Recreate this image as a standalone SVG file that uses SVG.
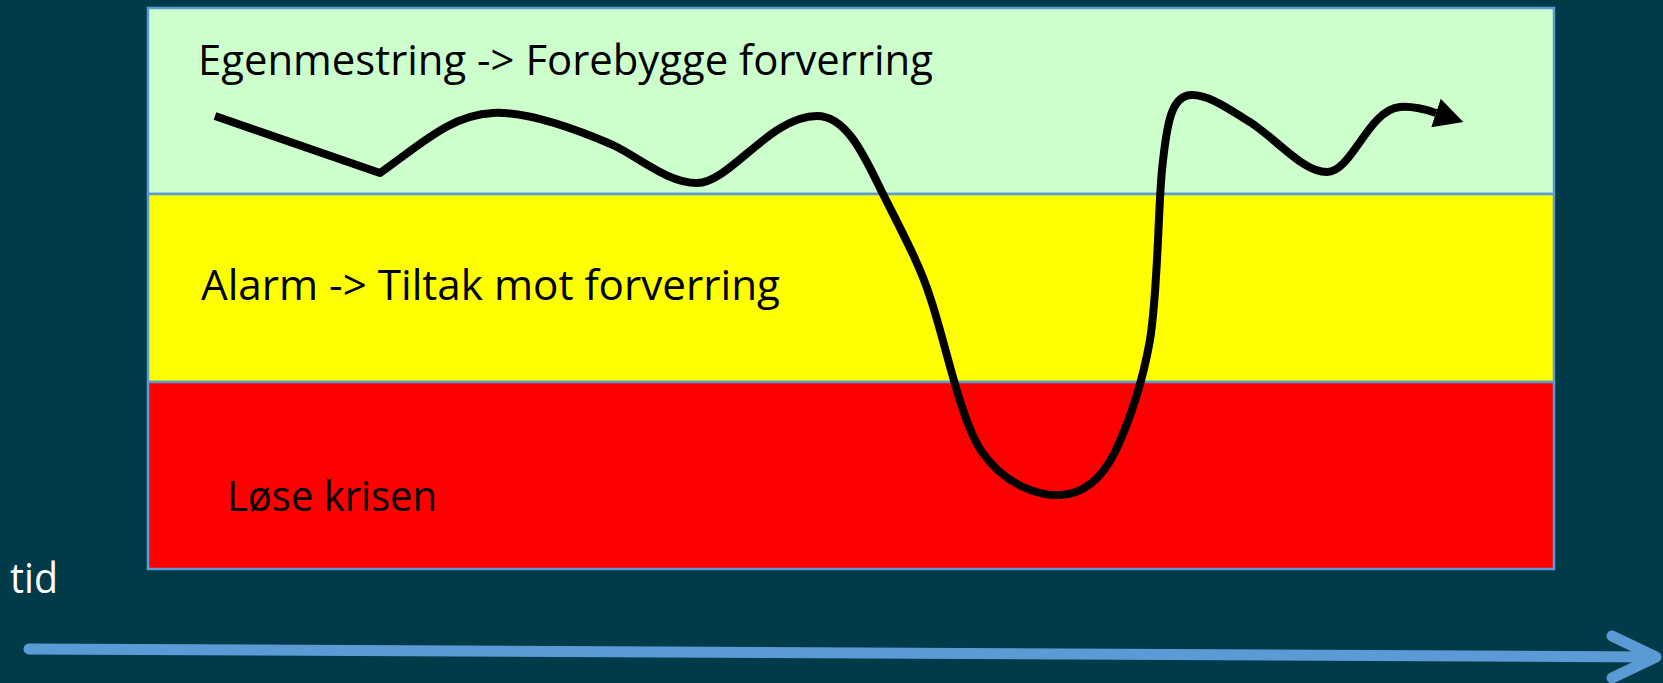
<svg xmlns="http://www.w3.org/2000/svg" width="1663" height="683" viewBox="0 0 1663 683">
  <style>
    .band { stroke: #5B9BD5; stroke-width: 2.5; }
    .lbl { font-family: "Open Sans", "Noto Sans", "Liberation Sans", sans-serif; font-size: 42px; fill: #000000; }
    .curve { fill: none; stroke: #000000; stroke-width: 8; stroke-linejoin: round; }
    .axis { fill: none; stroke: #5B9BD5; stroke-width: 11; stroke-linecap: round; stroke-linejoin: round; }
  </style>
  <defs>
    <marker id="head" markerUnits="userSpaceOnUse" markerWidth="30" markerHeight="30" refX="0" refY="12" orient="auto" viewBox="0 0 24 24">
      <path d="M0,0 L23,12 L0,24 z" fill="#000000"/>
    </marker>
  </defs>
  <rect x="0" y="0" width="1663" height="683" fill="#013A48"/>

  <g id="band-green">
    <rect class="band" x="148" y="8" width="1406" height="186" fill="#CCFFCC"/>
    <text class="lbl" x="198" y="75" textLength="735" lengthAdjust="spacingAndGlyphs">Egenmestring -&gt; Forebygge forverring</text>
  </g>
  <g id="band-yellow">
    <rect class="band" x="148" y="194" width="1406" height="188" fill="#FFFF00"/>
    <text class="lbl" x="201" y="300" textLength="579" lengthAdjust="spacingAndGlyphs">Alarm -&gt; Tiltak mot forverring</text>
  </g>
  <g id="band-red">
    <rect class="band" x="148" y="382" width="1406" height="187" fill="#FF0000"/>
    <text class="lbl" x="227" y="511" textLength="210" lengthAdjust="spacingAndGlyphs">Løse krisen</text>
  </g>
  <g id="time-label">
    <text class="lbl" x="10" y="593" style="fill:#FFFFFF" textLength="48" lengthAdjust="spacingAndGlyphs">tid</text>
  </g>

  <g id="connectors">
    <path class="curve" marker-end="url(#head)" d="M215,116 L380,173 C420,145 450,115 493,113 C530,111 585,133 613,145 C640,158 668,183 697,183 C730,183 770,116 817,116 C848,116 866,160 883,194 C900,228 920,265 930,297 C945,340 960,420 982,452 C1005,485 1038,496 1060,495 C1085,494 1102,478 1115,452 C1130,420 1142,385 1150,340 C1158,290 1158,210 1162,170 C1167,120 1172,95 1192,95 C1210,95 1230,110 1250,122 C1280,142 1303,172 1327,172 C1352,172 1368,110 1400,107 C1413,106 1424,109 1436,113"/>
    <g id="time-axis">
      <path class="axis" d="M29,649 L1654,657"/>
      <path class="axis" d="M1612,636 L1656,657 L1612,678"/>
    </g>
  </g>
</svg>
